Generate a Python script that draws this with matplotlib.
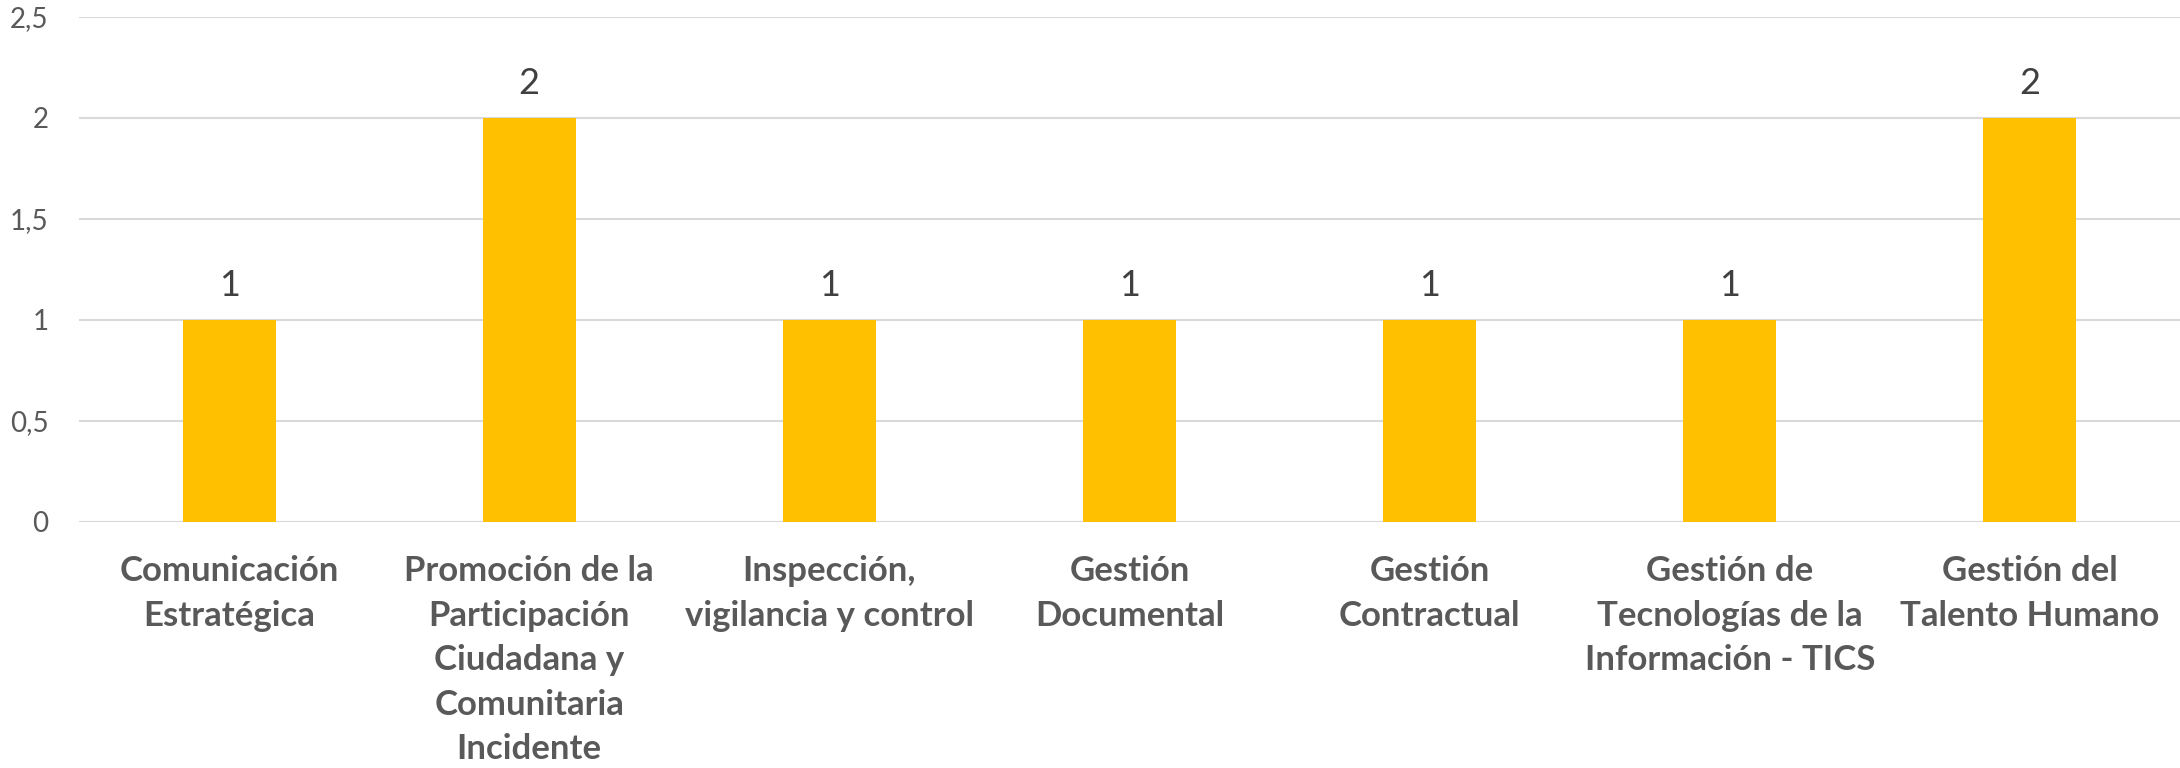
import matplotlib
matplotlib.use("Agg")
import matplotlib.pyplot as plt
from matplotlib.ticker import FuncFormatter

categories = [
    "Comunicación\nEstratégica",
    "Promoción de la\nParticipación\nCiudadana y\nComunitaria\nIncidente",
    "Inspección,\nvigilancia y control",
    "Gestión\nDocumental",
    "Gestión\nContractual",
    "Gestión de\nTecnologías de la\nInformación - TICS",
    "Gestión del\nTalento Humano",
]
values = [1, 2, 1, 1, 1, 1, 2]
yticks = [0, 0.5, 1, 1.5, 2, 2.5]

plt.rcParams['font.family'] = ['Lato', 'DejaVu Sans']

fig = plt.figure(figsize=(21.8, 7.68), dpi=100)
ax = fig.add_axes([79/2180, 1 - 522/768, (2180 - 79)/2180, (522 - 17)/768])

x = list(range(len(categories)))
ax.bar(x, values, width=0.31, color="#FFC000", zorder=3)
for xi, v in zip(x, values):
    ax.annotate(f"{v}", (xi, v), xytext=(0, 13), textcoords="offset points",
                ha="center", va="bottom", fontsize=26, color="#404040")

ax.set_xlim(-0.5, len(categories) - 0.5)
ax.set_ylim(0, 2.5)
ax.set_yticks(yticks)
ax.yaxis.set_major_formatter(FuncFormatter(lambda v, p: (f"{v:g}").replace(".", ",")))
ax.grid(axis="y", color="#D9D9D9", linewidth=1.5, zorder=0)
ax.set_xticks(x)
ax.set_xticklabels(categories, fontsize=25, fontweight="bold", color="#595959", linespacing=1.48)
ax.tick_params(axis="x", length=0, pad=24)
ax.tick_params(axis="y", length=0, pad=22, labelsize=20, labelcolor="#595959")
for s in ax.spines.values():
    s.set_visible(False)

fig.savefig("out.png", dpi=100, facecolor="white")
